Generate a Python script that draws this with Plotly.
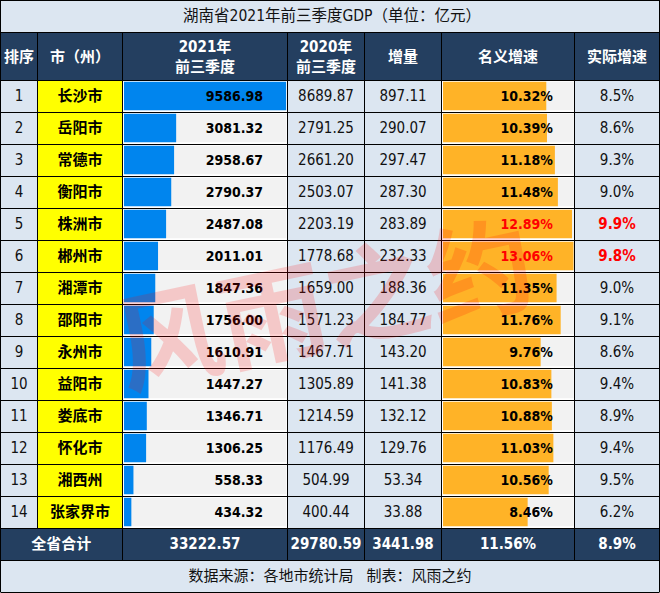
import plotly.graph_objects as go

TITLE = "湖南省2021年前三季度GDP（单位：亿元）"
FOOTER = "数据来源：各地市统计局   制表：风雨之约"
WATERMARK = "风雨之约"

RANK = list(range(1, 15))
CITY = ["长沙市", "岳阳市", "常德市", "衡阳市", "株洲市", "郴州市", "湘潭市",
        "邵阳市", "永州市", "益阳市", "娄底市", "怀化市", "湘西州", "张家界市"]
GDP_2021 = [9586.98, 3081.32, 2958.67, 2790.37, 2487.08, 2011.01, 1847.36,
            1756.00, 1610.91, 1447.27, 1346.71, 1306.25, 558.33, 434.32]
GDP_2020 = [8689.87, 2791.25, 2661.20, 2503.07, 2203.19, 1778.68, 1659.00,
            1571.23, 1467.71, 1305.89, 1214.59, 1176.49, 504.99, 400.44]
INCREASE = [897.11, 290.07, 297.47, 287.30, 283.89, 232.33, 188.36,
            184.77, 143.20, 141.38, 132.12, 129.76, 53.34, 33.88]
NOMINAL = [10.32, 10.39, 11.18, 11.48, 12.89, 13.06, 11.35,
           11.76, 9.76, 10.83, 10.88, 11.03, 10.56, 8.46]
REAL = [8.5, 8.6, 9.3, 9.0, 9.9, 9.8, 9.0, 9.1, 8.6, 9.4, 8.9, 9.4, 9.5, 6.2]
TOTAL = ["全省合计", "33222.57", "29780.59", "3441.98", "11.56%", "8.9%"]
HEADERS = ["排序", "市（州）", "2021年<br>前三季度", "2020年<br>前三季度",
           "增量", "名义增速", "实际增速"]

W, H = 660, 593
COLS = [0.5, 37.5, 122.5, 287.5, 364.5, 441.5, 574.5, 659.5]
ROW_H = 32
FIRST_ROW_TOP = 80
TEXT_NUDGE = 1.5 / ROW_H  # GLYPHS SIT A LITTLE HIGH OTHERWISE

NAVY = "#243f60"
PALE = "#dce6f1"
GREY = "#f2f2f2"
BLUE = "#0085ee"
ORANGE = "#ffb327"
INK = "#111111"
FONT = "DejaVu Sans Condensed, Noto Sans CJK SC"


def row_of(px):
    # y axis is in row numbers, row 0 is the first data row
    return (px - FIRST_ROW_TOP - ROW_H / 2) / ROW_H


def center(i):
    return (COLS[i] + COLS[i + 1]) / 2


def rect(x0, x1, y0, y1, color):
    return dict(type="rect", xref="x", yref="y", x0=x0, x1=x1, y0=row_of(y0), y1=row_of(y1),
                fillcolor=color, line_width=0, layer="below")


def line(x0, x1, y0, y1):
    return dict(type="line", xref="x", yref="y", x0=x0, x1=x1, y0=row_of(y0), y1=row_of(y1),
                line=dict(color="black", width=1), layer="above")


def text_trace(x, y, labels, size=15, color=INK, pos="middle center"):
    return go.Scatter(x=x, y=[v + TEXT_NUDGE for v in y], mode="text", text=labels, textposition=pos,
                      textfont=dict(family=FONT, size=size, color=color),
                      xaxis="x4", yaxis="y", cliponaxis=False,
                      hoverinfo="skip", showlegend=False)


def bold(labels):
    return ["<b>%s</b>" % t for t in labels]


row_y = [r - 1 for r in RANK]
hot = [v > 12.5 for v in NOMINAL]
fig = go.Figure()

# BARS, EACH ON ITS OWN VALUE AXIS
fig.add_trace(go.Bar(x=GDP_2021, y=row_y, orientation="h", width=0.89,
                     marker=dict(color=BLUE, line_width=0), xaxis="x2", yaxis="y",
                     showlegend=False, hoverinfo="skip"))
fig.add_trace(go.Bar(x=NOMINAL, y=row_y, orientation="h", width=0.89,
                     marker=dict(color=ORANGE, line_width=0), xaxis="x3", yaxis="y",
                     showlegend=False, hoverinfo="skip"))

# COLUMNS OF TEXT
fig.add_trace(text_trace([center(0)] * 14, row_y, [str(r) for r in RANK]))
fig.add_trace(text_trace([center(1)] * 14, row_y, bold(CITY), color="black"))
fig.add_trace(text_trace([center(3)] * 14, row_y, ["%.2f" % v for v in GDP_2020]))
fig.add_trace(text_trace([center(4)] * 14, row_y, ["%.2f" % v for v in INCREASE]))
fig.add_trace(text_trace([263] * 14, row_y, bold(["%.2f" % v for v in GDP_2021]),
                         size=14, color="black", pos="middle left"))
fig.add_trace(text_trace([553] * 14, row_y, bold(["%.2f%%" % v for v in NOMINAL]), size=14,
                         color=["#ff0000" if h else "black" for h in hot], pos="middle left"))
fig.add_trace(text_trace([center(6)] * 14, row_y,
                         ["<b>%.1f%%</b>" % v if h else "%.1f%%" % v for v, h in zip(REAL, hot)],
                         color=["#ff0000" if h else INK for h in hot]))

# HEADER, TITLE, TOTAL, FOOTER
fig.add_trace(text_trace([center(i) for i in range(7)], [row_of(56.5)] * 7, bold(HEADERS),
                         color="white"))
fig.add_trace(text_trace([COLS[2] / 2, center(2), center(3), center(4), center(5), center(6)],
                         [row_of(544)] * 6, bold(TOTAL), color="white"))
fig.add_trace(text_trace([332], [row_of(16)], [TITLE], size=15.5))
fig.add_trace(text_trace([330], [row_of(576)], [FOOTER]))

shapes = [
    rect(COLS[0], COLS[-1], 0, 592, PALE),
    rect(COLS[0], COLS[-1], 32, 80, NAVY),
    rect(COLS[0], COLS[-1], 528, 560, NAVY),
    rect(COLS[1], COLS[2], 80, 528, "#ffff00"),
    rect(COLS[2], COLS[3], 80, 528, "white"),
    rect(COLS[5], COLS[6], 80, 528, "white"),
]
# GREY INSIDE THE BAR CELLS
for i in range(14):
    top = FIRST_ROW_TOP + ROW_H * i + 1.75
    shapes.append(rect(124, 286.3, top, top + 28.5, GREY))
    shapes.append(rect(443, 573.7, top, top + 28.5, GREY))
# GRID
for y in [0.5, 32.5] + [80.5 + ROW_H * i for i in range(15)] + [560.5, 592.5]:
    shapes.append(line(COLS[0], COLS[-1], y, y))
for i, x in enumerate(COLS):
    if i in (0, len(COLS) - 1):
        shapes.append(line(x, x, 0, 592))
    elif i == 1:
        shapes.append(line(x, x, 32, 528))
    else:
        shapes.append(line(x, x, 32, 560))

fig.update_layout(
    width=W, height=H, margin=dict(l=0, r=0, t=0, b=0),
    paper_bgcolor="white", plot_bgcolor="rgba(0,0,0,0)", shapes=shapes,
    xaxis=dict(domain=[0, 1], range=[0, W], visible=False),
    yaxis=dict(domain=[0, 1], range=[row_of(H), row_of(0)], visible=False),
    xaxis2=dict(domain=[124 / W, 286.3 / W], range=[0, max(GDP_2021)], visible=False, anchor="y"),
    xaxis3=dict(domain=[443 / W, 573.7 / W], range=[0, max(NOMINAL)], visible=False, anchor="y"),
    xaxis4=dict(domain=[0, 1], range=[0, W], visible=False, anchor="y"),
    annotations=[dict(text="<b>%s</b>" % WATERMARK, xref="x", yref="y", x=323, y=row_of(298),
                      showarrow=False, textangle=-12, opacity=0.17,
                      font=dict(family="Noto Sans CJK SC", size=106, color="#ff0000"))],
)
fig.write_html("out.html", config=dict(displayModeBar=False),
               post_script="document.body.style.margin='0';document.documentElement.style.overflow='hidden';")
